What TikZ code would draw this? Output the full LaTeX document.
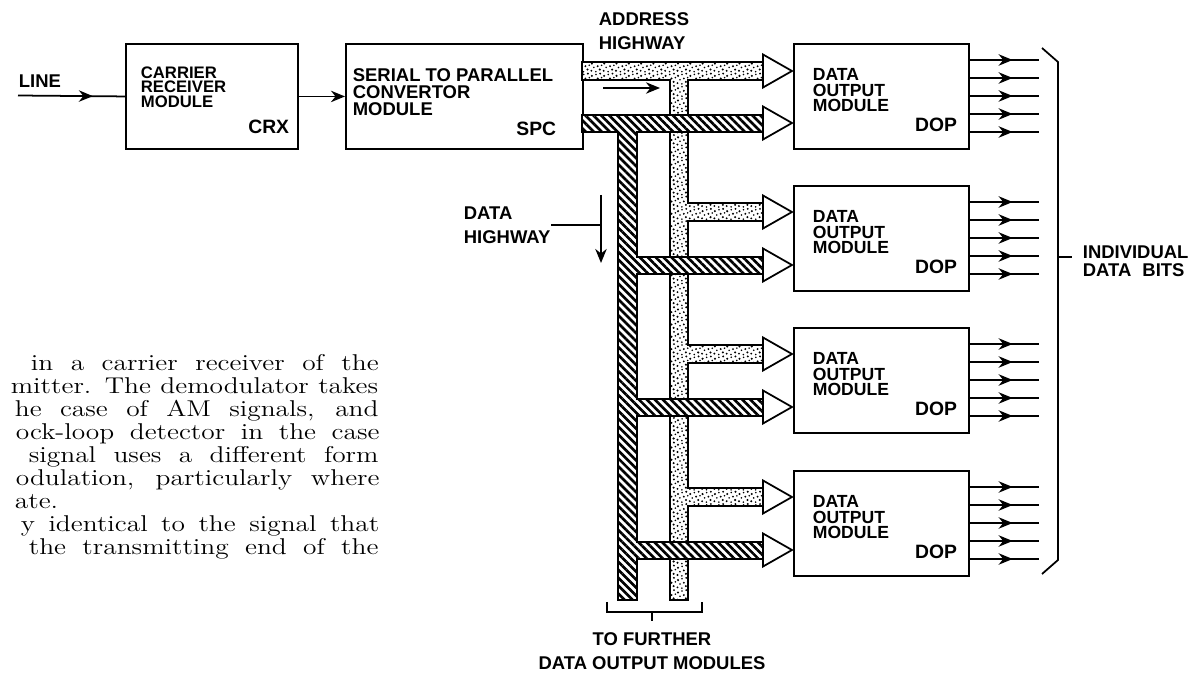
\documentclass[tikz,border=0pt]{standalone}
\usepackage{fontspec}
\setsansfont{Liberation Sans}
\newfontfamily\bookfont[FakeStretch=1.2]{Latin Modern Roman}
\usetikzlibrary{arrows.meta, patterns, patterns.meta, decorations.markings}

% loose dots for the address highway
\pgfdeclarepatternformonly{stipple}{\pgfqpoint{-1pt}{-1pt}}{\pgfqpoint{8pt}{8pt}}{\pgfqpoint{7pt}{7pt}}{
  \pgfpathcircle{\pgfqpoint{0.6pt}{0.9pt}}{0.6pt}
  \pgfpathcircle{\pgfqpoint{3.1pt}{0.4pt}}{0.5pt}
  \pgfpathcircle{\pgfqpoint{5.4pt}{1.6pt}}{0.65pt}
  \pgfpathcircle{\pgfqpoint{2.0pt}{2.8pt}}{0.5pt}
  \pgfpathcircle{\pgfqpoint{4.2pt}{3.5pt}}{0.6pt}
  \pgfpathcircle{\pgfqpoint{6.4pt}{4.0pt}}{0.5pt}
  \pgfpathcircle{\pgfqpoint{0.9pt}{5.0pt}}{0.65pt}
  \pgfpathcircle{\pgfqpoint{3.2pt}{5.8pt}}{0.5pt}
  \pgfpathcircle{\pgfqpoint{5.6pt}{6.3pt}}{0.6pt}
  \pgfusepath{fill}
}

\begin{document}
\begin{tikzpicture}[x=0.02cm, y=-0.02cm, line width=1pt,
  box/.style={draw, line width=1.1pt, minimum height=2.1cm, anchor=north west, inner sep=0},
  lbl/.style={font=\sffamily\bfseries\fontsize{9.5}{8.2}\selectfont, align=left, inner sep=0},
  code/.style={font=\sffamily\bfseries\fontsize{11}{11}\selectfont, inner sep=0},
  tag/.style={font=\sffamily\bfseries\fontsize{10.5}{13.5}\selectfont, inner sep=0},
  flow/.style={-{Stealth[length=8pt,width=6.5pt]}},
  midarrow/.style={postaction={decorate}, decoration={markings,
    mark=at position #1 with {\arrow{Stealth[length=8pt,width=6.5pt]}}}},
  addrbus/.style={draw, preaction={fill=white}, pattern=stipple},
  databus/.style={draw, preaction={fill=white},
    pattern={Lines[angle=-45,distance=3.2pt,line width=1.5pt]}},
  amp/.style={draw, fill=white},
  bookline/.style={font=\bookfont\fontsize{13}{13}\selectfont, anchor=base west,
    inner sep=0, text height=9pt, text depth=3pt}]
\useasboundingbox (0,0) rectangle (1201,675);

% receiver and convertor
\node[box, minimum width=3.44cm] (crx) at (125,43) {};
\node[lbl, anchor=north west] (crxtxt) at (140,66) {CARRIER\\RECEIVER\\MODULE};
\node[code, anchor=south east] (crxcode) at (290,135) {CRX};
\node[box, minimum width=4.74cm] (spc) at (345,43) {};
\node[lbl, anchor=north west, font=\sffamily\bfseries\fontsize{10.5}{9.5}\selectfont] (spctxt) at (352,68) {SERIAL TO PARALLEL\\CONVERTOR\\MODULE};
\node[code, anchor=south east] (spccode) at (557,137) {SPC};

\node[tag, anchor=south west] (line) at (18,88) {LINE};
\coordinate (linein) at (18,95.5);
\draw[midarrow=0.7] (linein) -- (crx.west);
\draw[flow] (crx.east) -- (spc.west);

% address highway (dots)
\draw[addrbus] (582,62) -- (763,62) -- (763,80) -- (688,80)
  -- (688,203) -- (763,203) -- (763,221) -- (688,221)
  -- (688,345) -- (763,345) -- (763,363) -- (688,363)
  -- (688,488) -- (763,488) -- (763,506) -- (688,506)
  -- (688,600) -- (670,600) -- (670,80) -- (582,80) -- cycle;
% data highway (hatched)
\draw[databus] (582,115) -- (763,115) -- (763,132) -- (637,132)
  -- (637,257) -- (763,257) -- (763,274) -- (637,274)
  -- (637,399) -- (763,399) -- (763,416) -- (637,416)
  -- (637,542) -- (763,542) -- (763,559) -- (637,559)
  -- (637,600) -- (618,600) -- (618,132) -- (582,132) -- cycle;

\node[tag, anchor=north west, align=left] (addr) at (598,12) {ADDRESS\\HIGHWAY};
\coordinate (addra) at (603,88);
\coordinate (addrb) at (660,88);
\draw[flow] (addra) -- (addrb);

\node[tag, anchor=north west, align=left] (dhw) at (463,206) {DATA\\HIGHWAY};
\coordinate (dhtop) at (601,195);
\coordinate (dhbot) at (601,263);
\draw[flow] (dhtop) -- (dhbot);
\draw (dhw.east) -- (dhw.east -| dhtop);

% buffers in front of the output modules
\foreach \y in {71,123,212,265,354,407,497,550}
  \draw[amp] (763,\y-16.5) -- (792,\y) -- (763,\y+16.5) -- cycle;

% data output modules
\foreach \t [count=\i] in {43,185,327,470} {
  \node[box, minimum width=3.5cm] (dop\i) at (793,\t) {};
  \node[lbl, anchor=north west, font=\sffamily\bfseries\fontsize{10}{8.8}\selectfont] (doptxt\i) at (812,\t+25) {DATA\\OUTPUT\\MODULE};
  \node[code, anchor=south east] (dopcode\i) at (958,\t+90) {DOP};
  \foreach \d in {17,35,53,71,89}
    \draw[midarrow=0.62] (dop\i.north east) ++(0,\d) -- ++(69,0);
}

% bracket for the bits
\draw (1042,48) -- (1058,62) -- (1058,560) -- (1042,574);
\coordinate (brmid) at (1058,257);
\coordinate (brtick) at (1072,257);
\draw (brmid) -- (brtick);
\node[tag, anchor=west, align=left, font=\sffamily\bfseries\fontsize{10.5}{10}\selectfont] (bits) at (1082,261) {INDIVIDUAL\\DATA\hspace{0.6em}BITS};

% bracket under the highways
\draw (607,602) -- (607,612) -- (702,612) -- (702,602);
\coordinate (furtop) at (652,612);
\coordinate (furbot) at (652,621);
\draw (furtop) -- (furbot);
\node[tag, anchor=north, align=center] (further) at (652,632) {TO FURTHER\\DATA OUTPUT MODULES};

% text of the book page
\node[bookline] (bk1) at (30,371) {\makebox[198pt][s]{in a carrier receiver of the}};
\node[bookline] (bk2) at (10,394) {\makebox[209pt][s]{mitter. The demodulator takes}};
\node[bookline] (bk3) at (14,417) {\makebox[207pt][s]{he case of AM signals, and}};
\node[bookline] (bk4) at (15,440) {\makebox[207pt][s]{ock-loop detector in the case}};
\node[bookline] (bk5) at (28,463) {\makebox[199pt][s]{signal uses a different form}};
\node[bookline] (bk6) at (15,486) {\makebox[207pt][s]{odulation, particularly where}};
\node[bookline] (bk7) at (14,509) {ate.};
\node[bookline] (bk8) at (20,532) {\makebox[204pt][s]{y identical to the signal that}};
\node[bookline] (bk9) at (28,555) {\makebox[199pt][s]{the transmitting end of the}};
\end{tikzpicture}
\end{document}
